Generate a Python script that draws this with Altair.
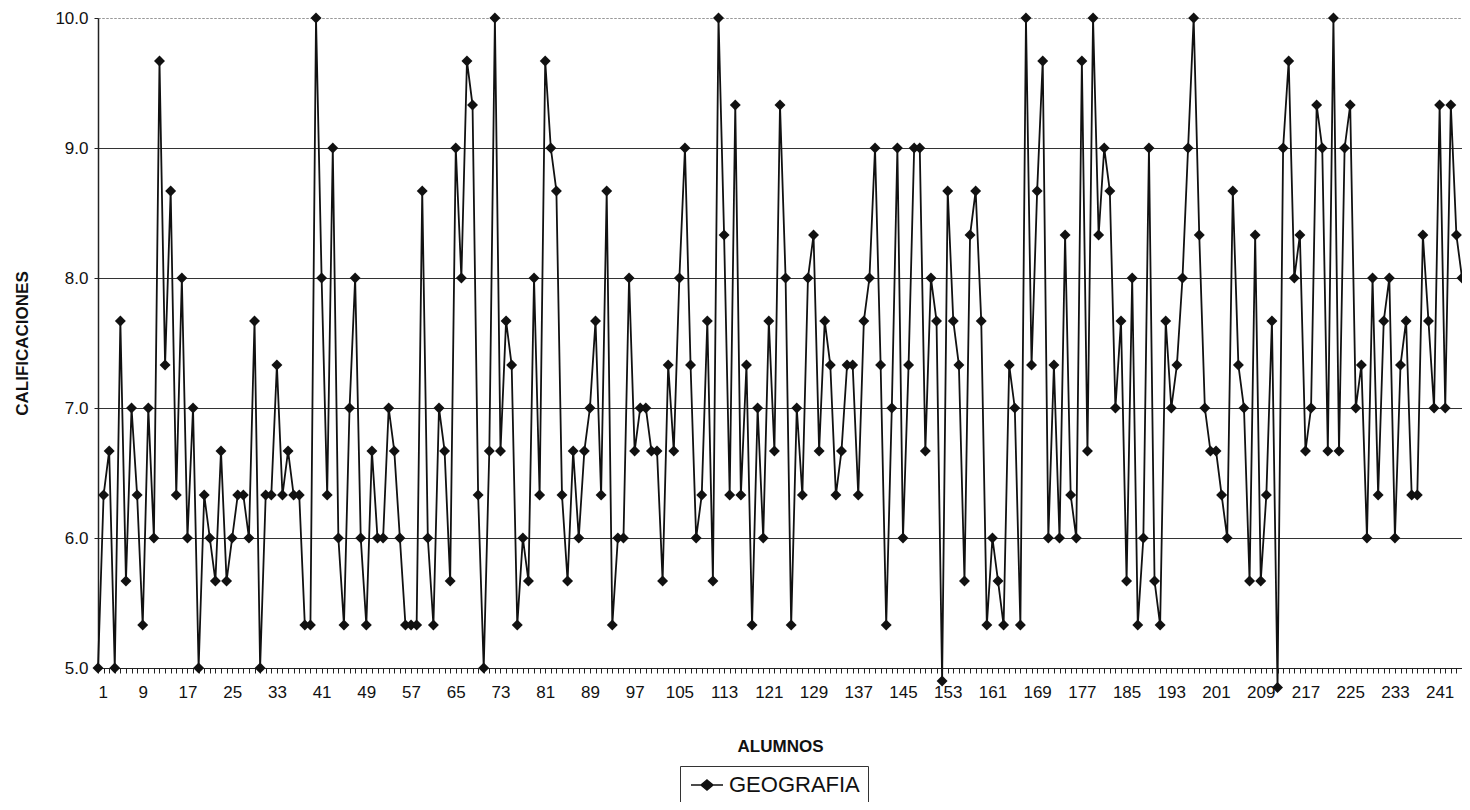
import altair as alt
import pandas as pd

calificaciones = [
    5.0, 6.33, 6.67, 5.0, 7.67, 5.67, 7.0, 6.33, 5.33, 7.0,
    6.0, 9.67, 7.33, 8.67, 6.33, 8.0, 6.0, 7.0, 5.0, 6.33,
    6.0, 5.67, 6.67, 5.67, 6.0, 6.33, 6.33, 6.0, 7.67, 5.0,
    6.33, 6.33, 7.33, 6.33, 6.67, 6.33, 6.33, 5.33, 5.33, 10.0,
    8.0, 6.33, 9.0, 6.0, 5.33, 7.0, 8.0, 6.0, 5.33, 6.67,
    6.0, 6.0, 7.0, 6.67, 6.0, 5.33, 5.33, 5.33, 8.67, 6.0,
    5.33, 7.0, 6.67, 5.67, 9.0, 8.0, 9.67, 9.33, 6.33, 5.0,
    6.67, 10.0, 6.67, 7.67, 7.33, 5.33, 6.0, 5.67, 8.0, 6.33,
    9.67, 9.0, 8.67, 6.33, 5.67, 6.67, 6.0, 6.67, 7.0, 7.67,
    6.33, 8.67, 5.33, 6.0, 6.0, 8.0, 6.67, 7.0, 7.0, 6.67,
    6.67, 5.67, 7.33, 6.67, 8.0, 9.0, 7.33, 6.0, 6.33, 7.67,
    5.67, 10.0, 8.33, 6.33, 9.33, 6.33, 7.33, 5.33, 7.0, 6.0,
    7.67, 6.67, 9.33, 8.0, 5.33, 7.0, 6.33, 8.0, 8.33, 6.67,
    7.67, 7.33, 6.33, 6.67, 7.33, 7.33, 6.33, 7.67, 8.0, 9.0,
    7.33, 5.33, 7.0, 9.0, 6.0, 7.33, 9.0, 9.0, 6.67, 8.0,
    7.67, 4.9, 8.67, 7.67, 7.33, 5.67, 8.33, 8.67, 7.67, 5.33,
    6.0, 5.67, 5.33, 7.33, 7.0, 5.33, 10.0, 7.33, 8.67, 9.67,
    6.0, 7.33, 6.0, 8.33, 6.33, 6.0, 9.67, 6.67, 10.0, 8.33,
    9.0, 8.67, 7.0, 7.67, 5.67, 8.0, 5.33, 6.0, 9.0, 5.67,
    5.33, 7.67, 7.0, 7.33, 8.0, 9.0, 10.0, 8.33, 7.0, 6.67,
    6.67, 6.33, 6.0, 8.67, 7.33, 7.0, 5.67, 8.33, 5.67, 6.33,
    7.67, 4.85, 9.0, 9.67, 8.0, 8.33, 6.67, 7.0, 9.33, 9.0,
    6.67, 10.0, 6.67, 9.0, 9.33, 7.0, 7.33, 6.0, 8.0, 6.33,
    7.67, 8.0, 6.0, 7.33, 7.67, 6.33, 6.33, 8.33, 7.67, 7.0,
    9.33, 7.0, 9.33, 8.33, 8.0,
]
alumnos = list(range(1, len(calificaciones) + 1))
serie = ["GEOGRAFIA"] * len(calificaciones)

x_tick_labels = [1, 9, 17, 25, 33, 41, 49, 57, 65, 73, 81, 89, 97, 105, 113,
                 121, 129, 137, 145, 153, 161, 169, 177, 185, 193, 201, 209,
                 217, 225, 233, 241]
y_ticks = [5.0, 6.0, 7.0, 8.0, 9.0, 10.0]

df = pd.DataFrame({"alumno": alumnos, "calificacion": calificaciones, "serie": serie})

FONT = "Liberation Sans"
label_expr = ("indexof([" + ",".join(str(v) for v in x_tick_labels) +
              "], datum.value) >= 0 ? datum.label : ''")

x = alt.X(
    "alumno:Q",
    scale=alt.Scale(domain=[alumnos[0], alumnos[-1]], nice=False, zero=False),
    axis=alt.Axis(
        values=alumnos, labelExpr=label_expr, labelOverlap=False, labelBound=False,
        title="ALUMNOS", grid=False, tickSize=5, tickColor="#222", tickWidth=1,
        domainColor="#222", domainWidth=1.2, labelFontSize=17, labelFont=FONT,
        labelColor="#111", labelPadding=11, titleFontSize=17, titleFont=FONT,
        titleFontWeight="bold", titleColor="#111", titlePadding=38,
    ),
)
y = alt.Y(
    "calificacion:Q",
    scale=alt.Scale(domain=[5, 10], nice=False, zero=False),
    axis=alt.Axis(
        values=y_ticks, format=".1f", title="CALIFICACIONES", grid=True,
        gridColor=alt.condition("datum.value >= 10", alt.value("#999999"), alt.value("#333333")),
        gridDash=alt.condition("datum.value >= 10", alt.value([2, 2]), alt.value([])),
        gridWidth=1, tickSize=4, tickColor="#222", domainColor="#222",
        domainWidth=1.5, labelFontSize=17, labelFont=FONT, labelColor="#111",
        labelPadding=6, titleFontSize=17, titleFont=FONT, titleFontWeight="bold",
        titleColor="#111", titlePadding=23,
    ),
)
color = alt.Color(
    "serie:N",
    scale=alt.Scale(range=["#111111"]),
    legend=alt.Legend(
        title=None, orient="none", legendX=582, legendY=748,
        symbolType="M-1.6,0L1.6,0M0,-0.5L0.6,0L0,0.5L-0.6,0Z",
        symbolSize=400, symbolOffset=8, symbolStrokeWidth=1.5,
        symbolFillColor="#111111", symbolStrokeColor="#111111", symbolOpacity=1,
        labelFontSize=22, labelFont=FONT, labelColor="#111", labelOffset=11,
        strokeColor="#333", fillColor="white", padding=8,
    ),
)

line = alt.Chart(df).mark_line(strokeWidth=1.8).encode(x=x, y=y, color=color)
pts = alt.Chart(df).mark_point(shape="diamond", filled=True, size=120, opacity=1).encode(
    x=x, y=y, color=color
)

chart = (
    alt.layer(line, pts)
    .properties(
        width=1364, height=650,
        padding={"left": 90, "top": 10, "right": 0, "bottom": 134},
        autosize=alt.AutoSizeParams(type="none"),
        background="white",
    )
    .configure_view(stroke="#888888", strokeDash=[2, 2], strokeWidth=1)
)

chart.save("out.html", embed_options={"renderer": "svg", "actions": False})
